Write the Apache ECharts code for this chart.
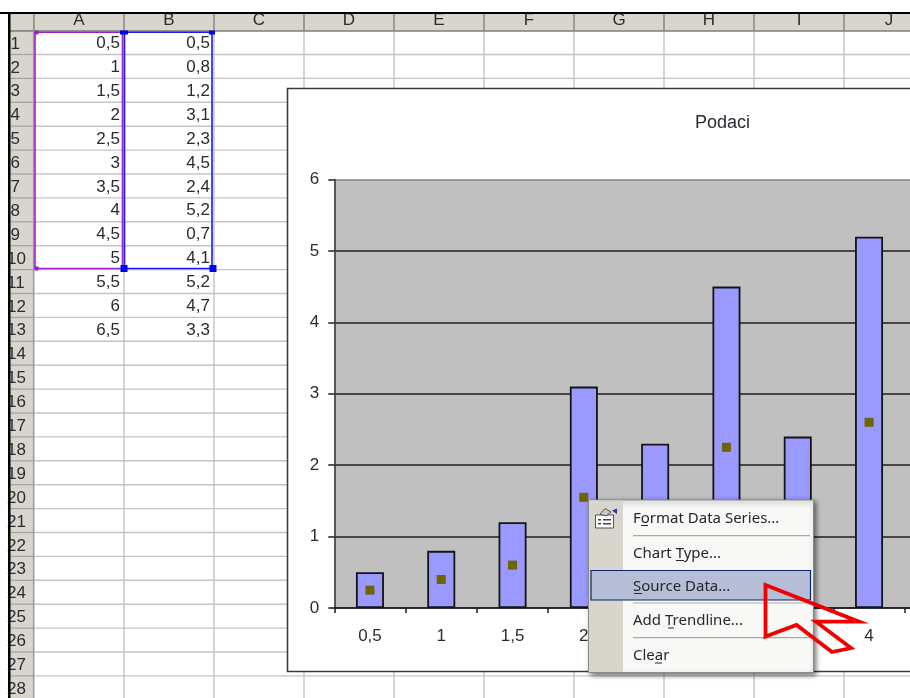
<!DOCTYPE html>
<html>
<head>
<meta charset="utf-8">
<style>html,body{margin:0;padding:0;background:#fff}#chart{width:910px;height:698px}</style>
<script src="https://cdn.jsdelivr.net/npm/echarts@6/dist/echarts.min.js"></script>
</head>
<body>
<div id="chart"></div>
<script>
// Worksheet contents
const columnLetters = ['A', 'B', 'C', 'D', 'E', 'F', 'G', 'H', 'I', 'J'];
const columnA = ['0,5', '1', '1,5', '2', '2,5', '3', '3,5', '4', '4,5', '5', '5,5', '6', '6,5'];
const columnB = [0.5, 0.8, 1.2, 3.1, 2.3, 4.5, 2.4, 5.2, 0.7, 4.1, 5.2, 4.7, 3.3];
const rowCount = 28;

// Chart series: first ten rows are plotted
const categories = columnA.slice(0, 10);
const barValues = columnB.slice(0, 10);
const pointValues = [0.25, 0.4, 0.6, 1.55, 1.15, 2.25, 1.2, 2.6, 0.35, 2.05];
const valueTicks = [0, 1, 2, 3, 4, 5, 6];
const chartTitle = 'Podaci';

// Context menu entries: label, centre y, underline start and end x
const menuItems = [
  ['Format Data Series...', 518.5, 641, 648],
  ['Chart Type...', 553.5, 676, 684],
  ['Source Data...', 586.5, 634, 642],
  ['Add Trendline...', 621, 668, 674],
  ['Clear', 656, 655, 662]
];

const SHEET_FONT = '"Liberation Sans", Arial, sans-serif';
const MENU_FONT = '"Noto Sans", Tahoma, sans-serif';
const INK = '#2b2b33';

const rowTop = 30.6, rowH = 23.9, colLeft = 34, colW = 90;
const els = [];
const line = (x1, y1, x2, y2, stroke, lineWidth, z) =>
  els.push({ type: 'line', silent: true, z, shape: { x1, y1, x2, y2 }, style: { stroke, lineWidth } });
const rect = (x, y, width, height, style, z) =>
  els.push({ type: 'rect', silent: true, z, shape: { x, y, width, height }, style });
const text = (x, y, t, align, font, fill, z) =>
  els.push({ type: 'text', silent: true, z, x, y, style: { text: t, align, verticalAlign: 'middle', font, fill } });

// Headers
rect(10, 13, 900, 18, { fill: '#d8d5cd' }, -20);
rect(10, 13, 24, 685, { fill: '#d8d5cd' }, -20);

// Cell grid
for (let r = 0; r <= rowCount; r++) {
  const y = rowTop + r * rowH;
  line(34, y, 910, y, '#c4c4c4', 1.4, -18);
  line(10, y, 34, y, '#a5a29b', 1.2, -18);
}
for (let c = 0; c <= columnLetters.length; c++) {
  const x = colLeft + c * colW;
  line(x, 31, x, 698, '#c4c4c4', 1.4, -18);
  line(x, 14, x, 31, '#85837d', 1.4, -18);
}
line(10, 31, 910, 31, '#85837d', 1.4, -18);
line(33.5, 14, 33.5, 698, '#9a9891', 1.2, -18);

columnLetters.forEach((t, c) =>
  text(colLeft + (c + 0.5) * colW, 20, t, 'center', '17px ' + SHEET_FONT, INK, -17));
for (let r = 0; r < rowCount; r++) {
  const label = String(r + 1);
  text(label.length > 1 ? 7 : 10.5, 44 + r * rowH, label, 'left', '17px ' + SHEET_FONT, INK, -17);
}
columnA.forEach((t, r) => text(120, 43.5 + r * rowH, t, 'right', '17px ' + SHEET_FONT, INK, -17));
columnB.forEach((v, r) =>
  text(210, 43.5 + r * rowH, String(v).replace('.', ','), 'right', '17px ' + SHEET_FONT, INK, -17));

// Range selection outlines and handles
rect(35, 32.2, 87.5, 236.3, { fill: 'none', stroke: '#a01fc4', lineWidth: 1.6 }, -16);
rect(124.5, 32.2, 87.5, 236.3, { fill: 'none', stroke: '#1c1cf0', lineWidth: 1.6 }, -16);
rect(34.5, 30.5, 4, 4, { fill: '#a01fc4' }, -15);
rect(34.5, 266.5, 4, 4, { fill: '#a01fc4' }, -15);
rect(120, 30.5, 8, 4, { fill: '#0000f0' }, -15);
rect(209, 30.5, 6, 4, { fill: '#0000f0' }, -15);
rect(120.5, 265, 7, 7, { fill: '#0000f0' }, -15);
rect(209.5, 265, 7, 7, { fill: '#0000f0' }, -15);

// Sheet frame
rect(0, 12, 910, 2, { fill: '#000' }, -14);
rect(8, 13, 2.5, 685, { fill: '#000' }, -14);

// Chart area panel
rect(287.5, 88.5, 700, 583, { fill: '#fff', stroke: '#3c3c3c', lineWidth: 1.6 }, -10);

// Context menu
rect(588.5, 500, 225, 172.5, {
  fill: '#f8f8f6', stroke: '#8a8a86', lineWidth: 1,
  shadowBlur: 5, shadowOffsetX: 2, shadowOffsetY: 2, shadowColor: 'rgba(0,0,0,0.55)'
}, 50);
rect(589, 500.5, 34, 171.5, { fill: '#d8d5cd' }, 51);
line(633, 535.7, 810, 535.7, '#a8a7a3', 1.2, 51);
line(633, 603, 810, 603, '#a8a7a3', 1.2, 51);
line(633, 637.7, 810, 637.7, '#a8a7a3', 1.2, 51);
rect(591, 570.5, 219.5, 29.5, { fill: '#b5bed6', stroke: '#0a246a', lineWidth: 1.2 }, 52);
menuItems.forEach(([t, y, u1, u2]) => {
  text(633, y, t, 'left', '15px ' + MENU_FONT, '#26262c', 53);
  line(u1, y + 7, u2, y + 7, '#26262c', 1, 53);
});

// Menu icon: property sheet with a paint marker
rect(595.5, 515, 18, 13, { fill: '#fbfbfb', stroke: '#55554f', lineWidth: 1 }, 53);
for (let i = 0; i < 2; i++) {
  rect(598, 519 + i * 4, 3, 1.5, { fill: '#45453f' }, 54);
  rect(603, 519 + i * 4, 8, 1.5, { fill: '#45453f' }, 54);
}
els.push({
  type: 'polygon', silent: true, z: 54,
  shape: { points: [[600, 514], [605, 508.5], [611, 512], [606, 516]] },
  style: { fill: '#c9c9c4', stroke: '#55554f', lineWidth: 1 }
});
els.push({
  type: 'polygon', silent: true, z: 54,
  shape: { points: [[612, 510.5], [617, 508.5], [617, 514]] },
  style: { fill: '#33339a' }
});

// Red pointer callout
els.push({
  type: 'polygon', silent: true, z: 60,
  shape: { points: [[765.5, 585], [859, 621.7], [816, 621.7], [851, 648], [832, 652], [796.5, 625], [765.5, 636.5]] },
  style: { fill: 'none', stroke: '#f00000', lineWidth: 3.8, lineJoin: 'miter' }
});

const chart = echarts.init(document.getElementById('chart'), null, { renderer: 'canvas' });
chart.setOption({
  animation: false,
  backgroundColor: '#fff',
  title: {
    text: chartTitle, left: 690, top: 109,
    textStyle: { fontFamily: SHEET_FONT, fontSize: 18, fontWeight: 'normal', color: INK }
  },
  grid: {
    left: 334.3, top: 179.5, width: 713, height: 428.5, show: true,
    backgroundColor: '#c0c0c0', borderWidth: 0, containLabel: false, outerBoundsMode: 'none'
  },
  xAxis: {
    type: 'category', data: categories,
    axisLine: { lineStyle: { color: '#1e1e1e', width: 1.6 } },
    axisTick: { show: true, alignWithLabel: false, length: 5, lineStyle: { color: '#1e1e1e', width: 1.5 } },
    axisLabel: { interval: 0, margin: 20, color: INK, fontFamily: SHEET_FONT, fontSize: 17 },
    splitLine: { show: false }
  },
  yAxis: {
    type: 'value', min: 0, max: valueTicks[valueTicks.length - 1], interval: 1,
    axisLine: { show: true, lineStyle: { color: '#3c3c3c', width: 1.6 } },
    axisTick: { show: true, length: 6, lineStyle: { color: '#1e1e1e', width: 1.5 } },
    axisLabel: { margin: 15, padding: [3, 0, 0, 0], color: INK, fontFamily: SHEET_FONT, fontSize: 17 },
    splitLine: {
      show: true,
      lineStyle: { color: ['#1e1e1e', '#1e1e1e', '#1e1e1e', '#1e1e1e', '#1e1e1e', '#1e1e1e', '#8a8a8a'], width: 1.5 }
    }
  },
  series: [
    {
      type: 'bar', data: barValues, barWidth: 28, z: 3,
      itemStyle: { color: '#9999ff', borderColor: '#141414', borderWidth: 1.8 }
    },
    {
      type: 'line', data: pointValues, symbol: 'rect', symbolSize: 9, z: 4,
      lineStyle: { opacity: 0, width: 0 },
      itemStyle: { color: '#6e6500', borderWidth: 0 }
    }
  ],
  graphic: { elements: els }
});
</script>
</body>
</html>
